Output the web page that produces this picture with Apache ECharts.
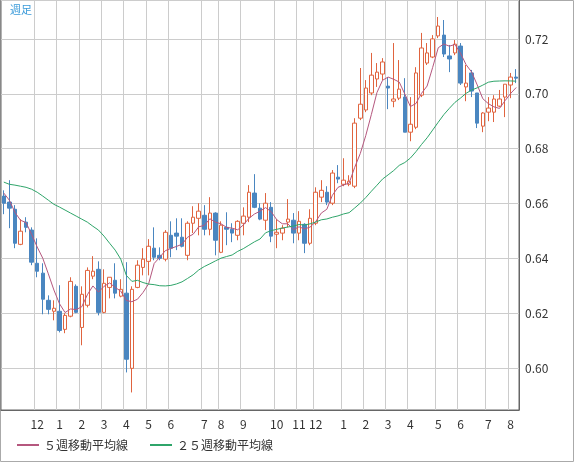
<!DOCTYPE html>
<html><head><meta charset="utf-8">
<script src="https://cdn.jsdelivr.net/npm/echarts@6/dist/echarts.min.js"></script>
<style>html,body{margin:0;padding:0;background:#fff}#c{width:574px;height:462px}</style>
</head><body><div id="c"></div>
<script>
// OHLC per week: [open, close, low, high]
const opens  = [0.6627,0.6605,0.6579,0.6451,0.6532,0.6503,0.6382,0.6346,0.6247,0.6207,0.6207,0.6141,0.6189,0.6298,0.6148,0.6229,0.6335,0.6360,0.6203,0.6294,0.6320,0.6262,0.6273,0.5999,0.6294,0.6367,0.6389,0.6437,0.6411,0.6397,0.6484,0.6492,0.6477,0.6411,0.6528,0.6546,0.6557,0.6506,0.6565,0.6422,0.6513,0.6506,0.6484,0.6528,0.6550,0.6638,0.6583,0.6539,0.6586,0.6488,0.6492,0.6532,0.6539,0.6492,0.6524,0.6455,0.6528,0.6623,0.6641,0.6601,0.6696,0.6670,0.6670,0.6663,0.6911,0.6941,0.7003,0.7054,0.7072,0.7028,0.6973,0.6984,0.6988,0.6860,0.6878,0.6995,0.7112,0.7134,0.7211,0.7214,0.7138,0.7149,0.7174,0.7025,0.7076,0.7003,0.6882,0.6933,0.6933,0.6955,0.6988,0.7032,0.7061];
const closes = [0.6601,0.6583,0.6455,0.6499,0.6513,0.6386,0.6353,0.6251,0.6214,0.6218,0.6137,0.6192,0.6316,0.6203,0.6269,0.6356,0.6353,0.6203,0.6309,0.6331,0.6273,0.6287,0.6032,0.6287,0.6375,0.6397,0.6444,0.6404,0.6400,0.6495,0.6437,0.6481,0.6444,0.6528,0.6550,0.6572,0.6506,0.6565,0.6466,0.6521,0.6506,0.6492,0.6535,0.6554,0.6641,0.6586,0.6543,0.6601,0.6481,0.6495,0.6510,0.6543,0.6492,0.6535,0.6455,0.6546,0.6641,0.6648,0.6605,0.6711,0.6689,0.6685,0.6681,0.6893,0.6962,0.7021,0.7068,0.7079,0.7116,0.7021,0.6981,0.7017,0.6860,0.6889,0.7076,0.7167,0.7149,0.7200,0.7247,0.7145,0.7127,0.7181,0.7039,0.7039,0.7010,0.6893,0.6930,0.6948,0.6981,0.6981,0.7035,0.7061,0.7057];
const lows   = [0.6561,0.6510,0.6437,0.6448,0.6495,0.6375,0.6331,0.6196,0.6196,0.6174,0.6130,0.6127,0.6185,0.6200,0.6083,0.6221,0.6324,0.6192,0.6200,0.6254,0.6254,0.6258,0.5984,0.5911,0.6291,0.6338,0.6338,0.6393,0.6393,0.6389,0.6404,0.6430,0.6440,0.6393,0.6492,0.6484,0.6484,0.6484,0.6411,0.6419,0.6448,0.6459,0.6466,0.6484,0.6532,0.6583,0.6539,0.6503,0.6459,0.6437,0.6466,0.6513,0.6455,0.6466,0.6419,0.6448,0.6521,0.6605,0.6594,0.6594,0.6674,0.6663,0.6663,0.6656,0.6904,0.6933,0.6995,0.7025,0.7050,0.6944,0.6951,0.6977,0.6860,0.6827,0.6871,0.6988,0.7105,0.7130,0.7203,0.7134,0.7079,0.7141,0.7032,0.6973,0.6988,0.6875,0.6860,0.6900,0.6897,0.6951,0.6915,0.6984,0.7039];
const highs  = [0.6648,0.6685,0.6594,0.6543,0.6550,0.6513,0.6473,0.6382,0.6265,0.6247,0.6302,0.6200,0.6331,0.6305,0.6298,0.6367,0.6408,0.6389,0.6360,0.6331,0.6382,0.6324,0.6386,0.6298,0.6393,0.6437,0.6470,0.6513,0.6440,0.6503,0.6535,0.6546,0.6546,0.6535,0.6590,0.6601,0.6594,0.6623,0.6568,0.6535,0.6568,0.6528,0.6539,0.6586,0.6667,0.6707,0.6601,0.6638,0.6605,0.6543,0.6521,0.6616,0.6565,0.6572,0.6528,0.6579,0.6659,0.6685,0.6663,0.6722,0.6740,0.6765,0.6703,0.6911,0.7094,0.7050,0.7149,0.7112,0.7130,0.7061,0.7185,0.7123,0.7057,0.6988,0.7097,0.7222,0.7185,0.7214,0.7280,0.7269,0.7178,0.7196,0.7185,0.7105,0.7087,0.7003,0.6933,0.6988,0.6995,0.7014,0.7035,0.7076,0.7090];
const ma5Head  = [0.6638,0.6612,0.6568,0.6539];
const ma25Head = [0.6678,0.6670,0.6667,0.6663,0.6659,0.6652,0.6641,0.6627,0.6612,0.6597,0.6587,0.6576,0.6565,0.6554,0.6543,0.6532,0.6517,0.6503,0.6481,0.6455,0.6430,0.6397,0.6338,0.6316];
// month tick labels and the week index where each appears
const tickLabels = ['12','1','2','3','4','5','6','7','8','9','10','11','12','1','2','3','4','5','6','7','8'];
const tickIdx    = [6,10,14,18,22,26,30,36,39,43,49,53,56,61,65,69,73,78,82,87,91];

const weeks = closes.map((_, i) => String(i));
const ohlc = closes.map((c, i) => [opens[i], c, lows[i], highs[i]]);
function ma(n, head) {
  return closes.map((_, i) => {
    if (i < head.length) return head[i];
    let s = 0; for (let k = i - n + 1; k <= i; k++) s += closes[k];
    return +(s / n).toFixed(5);
  });
}
const tickMap = {}; tickIdx.forEach((ix, j) => tickMap[ix] = tickLabels[j]);
const showTick = (i) => tickMap[i] !== undefined;

const chart = echarts.init(document.getElementById('c'), null, {renderer: 'canvas'});
chart.setOption({
  animation: false,
  backgroundColor: '#fff',
  textStyle: {fontFamily: 'Noto Sans CJK JP, sans-serif'},
  graphic: [
    {type: 'text', left: 10, top: 4, style: {text: '週足', fill: '#3a9ad9', fontSize: 11, fontFamily: 'Noto Sans CJK JP'}, z: 10},
    {type: 'rect', shape: {x: 0.5, y: 0.5, width: 573, height: 461}, style: {fill: 'none', stroke: '#aaa'}, z: -1}
  ],
  legend: {
    bottom: 6, left: 12, itemWidth: 22, itemHeight: 2, itemGap: 22,
    icon: 'rect',
    textStyle: {color: '#333', fontSize: 12, fontFamily: 'Noto Sans CJK JP'},
    data: ['５週移動平均線', '２５週移動平均線']
  },
  grid: {left: 1, right: 55, top: 0, bottom: 52, show: true, borderColor: '#666', borderWidth: 1},
  xAxis: {
    type: 'category', data: weeks, boundaryGap: true,
    axisLine: {show: true, lineStyle: {color: '#666'}},
    axisTick: {show: false},
    axisLabel: {interval: (i) => showTick(i), formatter: (v, i) => tickMap[i] || '', color: '#333', fontSize: 12, margin: 8},
    splitLine: {show: true, interval: (i) => showTick(i), lineStyle: {color: '#ccc'}}
  },
  yAxis: {
    type: 'value', position: 'right', scale: true,
    min: 0.5847, max: 0.7342, splitNumber: 7,
    axisLine: {show: true, lineStyle: {color: '#666'}},
    axisTick: {show: false},
    axisLabel: {color: '#333', fontSize: 12, margin: 6, showMinLabel: false, showMaxLabel: false,
      formatter: (v) => v.toFixed(2)},
    splitLine: {show: true, lineStyle: {color: '#ccc'}}
  },
  series: [
    {type: 'candlestick', data: ohlc, barWidth: 4,
      itemStyle: {color: '#ffffff', color0: '#4a86c0', borderColor: '#e0643f', borderColor0: '#4a86c0', borderWidth: 1}},
    {name: '５週移動平均線', type: 'line', data: ma(5, ma5Head), symbol: 'none', smooth: false,
      lineStyle: {color: '#b5577e', width: 1}, itemStyle: {color: '#b5577e'}},
    {name: '２５週移動平均線', type: 'line', data: ma(25, ma25Head), symbol: 'none',
      lineStyle: {color: '#2fa56a', width: 1}, itemStyle: {color: '#2fa56a'}}
  ]
});
</script></body></html>
